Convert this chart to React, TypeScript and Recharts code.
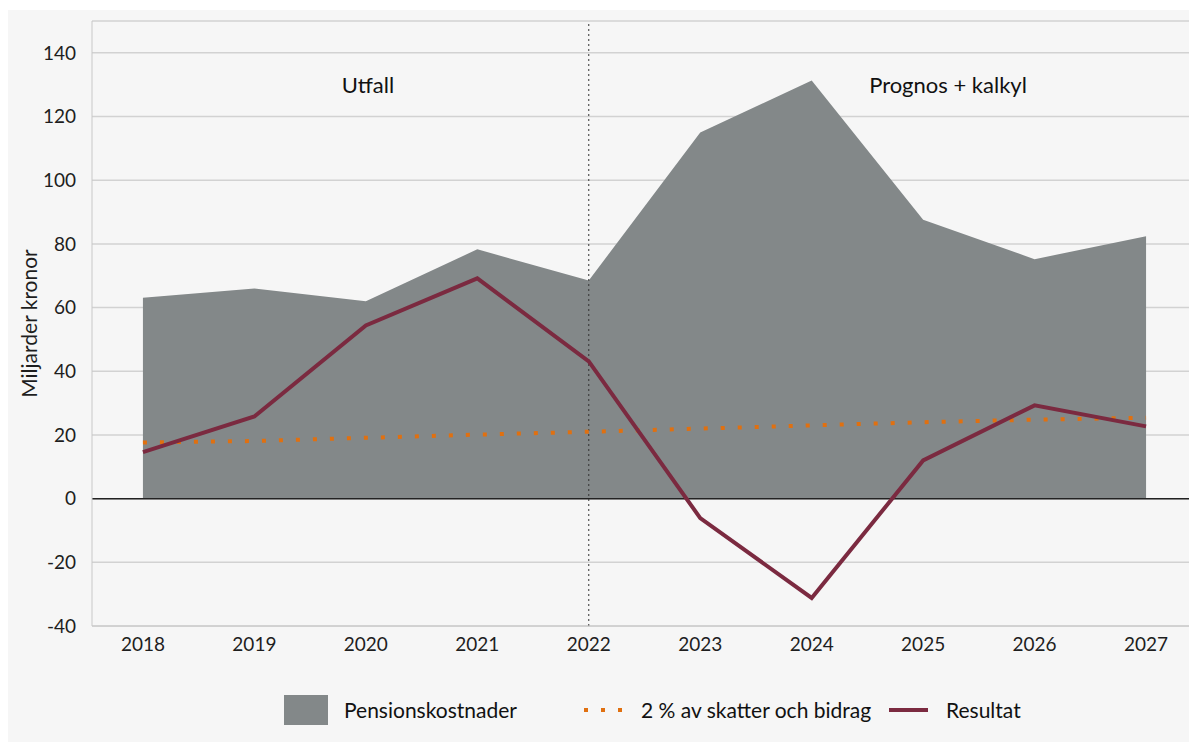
import React from 'react';
import { ComposedChart, Area, Line, XAxis, YAxis, CartesianGrid, ReferenceLine, Label } from 'recharts';

const years = [2018, 2019, 2020, 2021, 2022, 2023, 2024, 2025, 2026, 2027];
const pensionskostnader = [63.1, 66, 62, 78.3, 68.5, 115, 131.3, 87.6, 75.2, 82.4];
const tvaProcent = [17.6, 18.1, 19.1, 20.1, 21.0, 22.0, 23.0, 24.0, 24.8, 25.4];
const resultat = [14.6, 25.8, 54.4, 69.2, 43.1, -6.1, -31.2, 12.0, 29.3, 22.7];
const yTicks = [-40, -20, 0, 20, 40, 60, 80, 100, 120, 140];

const data = years.map((y, i) => ({
  year: y,
  pension: pensionskostnader[i],
  tva: tvaProcent[i],
  resultat: resultat[i],
}));

const FONT = 'Lato, "Open Sans", sans-serif';

export default function App() {
  return (
    <div style={{ paddingTop: 2 }}>
    <div style={{ position: 'relative', width: 1189, height: 732, background: '#f6f6f6', fontFamily: FONT }}>
      <ComposedChart
        width={1189}
        height={732}
        data={data}
        margin={{ top: 11, right: 0, bottom: 86, left: 0 }}
      >
        <CartesianGrid horizontal vertical={false} stroke="#d2d2d2" strokeWidth={1.5} />
        <XAxis
          dataKey="year"
          type="number"
          domain={[2017.543, 2027.457]}
          ticks={years}
          interval={0}
          height={30}
          axisLine={{ stroke: '#c8c8c8' }}
          tickLine={false}
          tick={{ fill: '#1e1e1e', fontSize: 19, fontFamily: FONT }}
          tickMargin={6}
        />
        <YAxis
          domain={[-40, 150]}
          ticks={yTicks}
          interval={0}
          width={84}
          axisLine={{ stroke: '#c8c8c8' }}
          tickLine={false}
          tick={{ fill: '#1e1e1e', fontSize: 19, fontFamily: FONT }}
          tickMargin={10}
        >
          <Label
            value="Miljarder kronor"
            angle={-90}
            position="insideLeft"
            offset={22}
            style={{ textAnchor: 'middle', fill: '#1e1e1e', fontSize: 21, fontFamily: FONT }}
          />
        </YAxis>
        <Area
          dataKey="pension"
          type="linear"
          fill="#838889"
          fillOpacity={1}
          stroke="none"
          isAnimationActive={false}
        />
        <ReferenceLine y={0} stroke="#222" strokeWidth={1.5} />
        <ReferenceLine
          x={2022}
          stroke="#333"
          strokeDasharray="2 3"
          strokeWidth={1}
          segment={[{ x: 2022, y: 150 }, { x: 2022, y: -40 }]}
        />
        <Line
          dataKey="tva"
          type="linear"
          stroke="#e07010"
          strokeWidth={4}
          strokeDasharray="4 13"
          dot={false}
          activeDot={false}
          isAnimationActive={false}
        />
        <Line
          dataKey="resultat"
          type="linear"
          stroke="#7b2a40"
          strokeWidth={4}
          dot={false}
          activeDot={false}
          isAnimationActive={false}
        />
      </ComposedChart>
      <div style={{ position: 'absolute', left: 300, top: 61, width: 120, textAlign: 'center', fontSize: 22, color: '#111', fontFamily: FONT }}>
        Utfall
      </div>
      <div style={{ position: 'absolute', left: 810, top: 61, width: 260, textAlign: 'center', fontSize: 22, color: '#111', fontFamily: FONT }}>
        Prognos + kalkyl
      </div>
      <div style={{ position: 'absolute', top: 685, left: 0, width: 1189, height: 30, fontSize: 21, color: '#111', fontFamily: FONT }}>
        <div style={{ position: 'absolute', left: 276, top: 0, width: 44, height: 30, background: '#838889' }} />
        <div style={{ position: 'absolute', left: 336, top: 2 }}>Pensionskostnader</div>
        <svg style={{ position: 'absolute', left: 574, top: 11 }} width={40} height={8}>
          <line x1={2} y1={4} x2={40} y2={4} stroke="#e07010" strokeWidth={4} strokeDasharray="4 13" />
        </svg>
        <div style={{ position: 'absolute', left: 633, top: 2 }}>2 % av skatter och bidrag</div>
        <svg style={{ position: 'absolute', left: 881, top: 11 }} width={40} height={8}>
          <line x1={0} y1={4} x2={39} y2={4} stroke="#7b2a40" strokeWidth={4} />
        </svg>
        <div style={{ position: 'absolute', left: 938, top: 2 }}>Resultat</div>
      </div>
    </div>
    </div>
  );
}
